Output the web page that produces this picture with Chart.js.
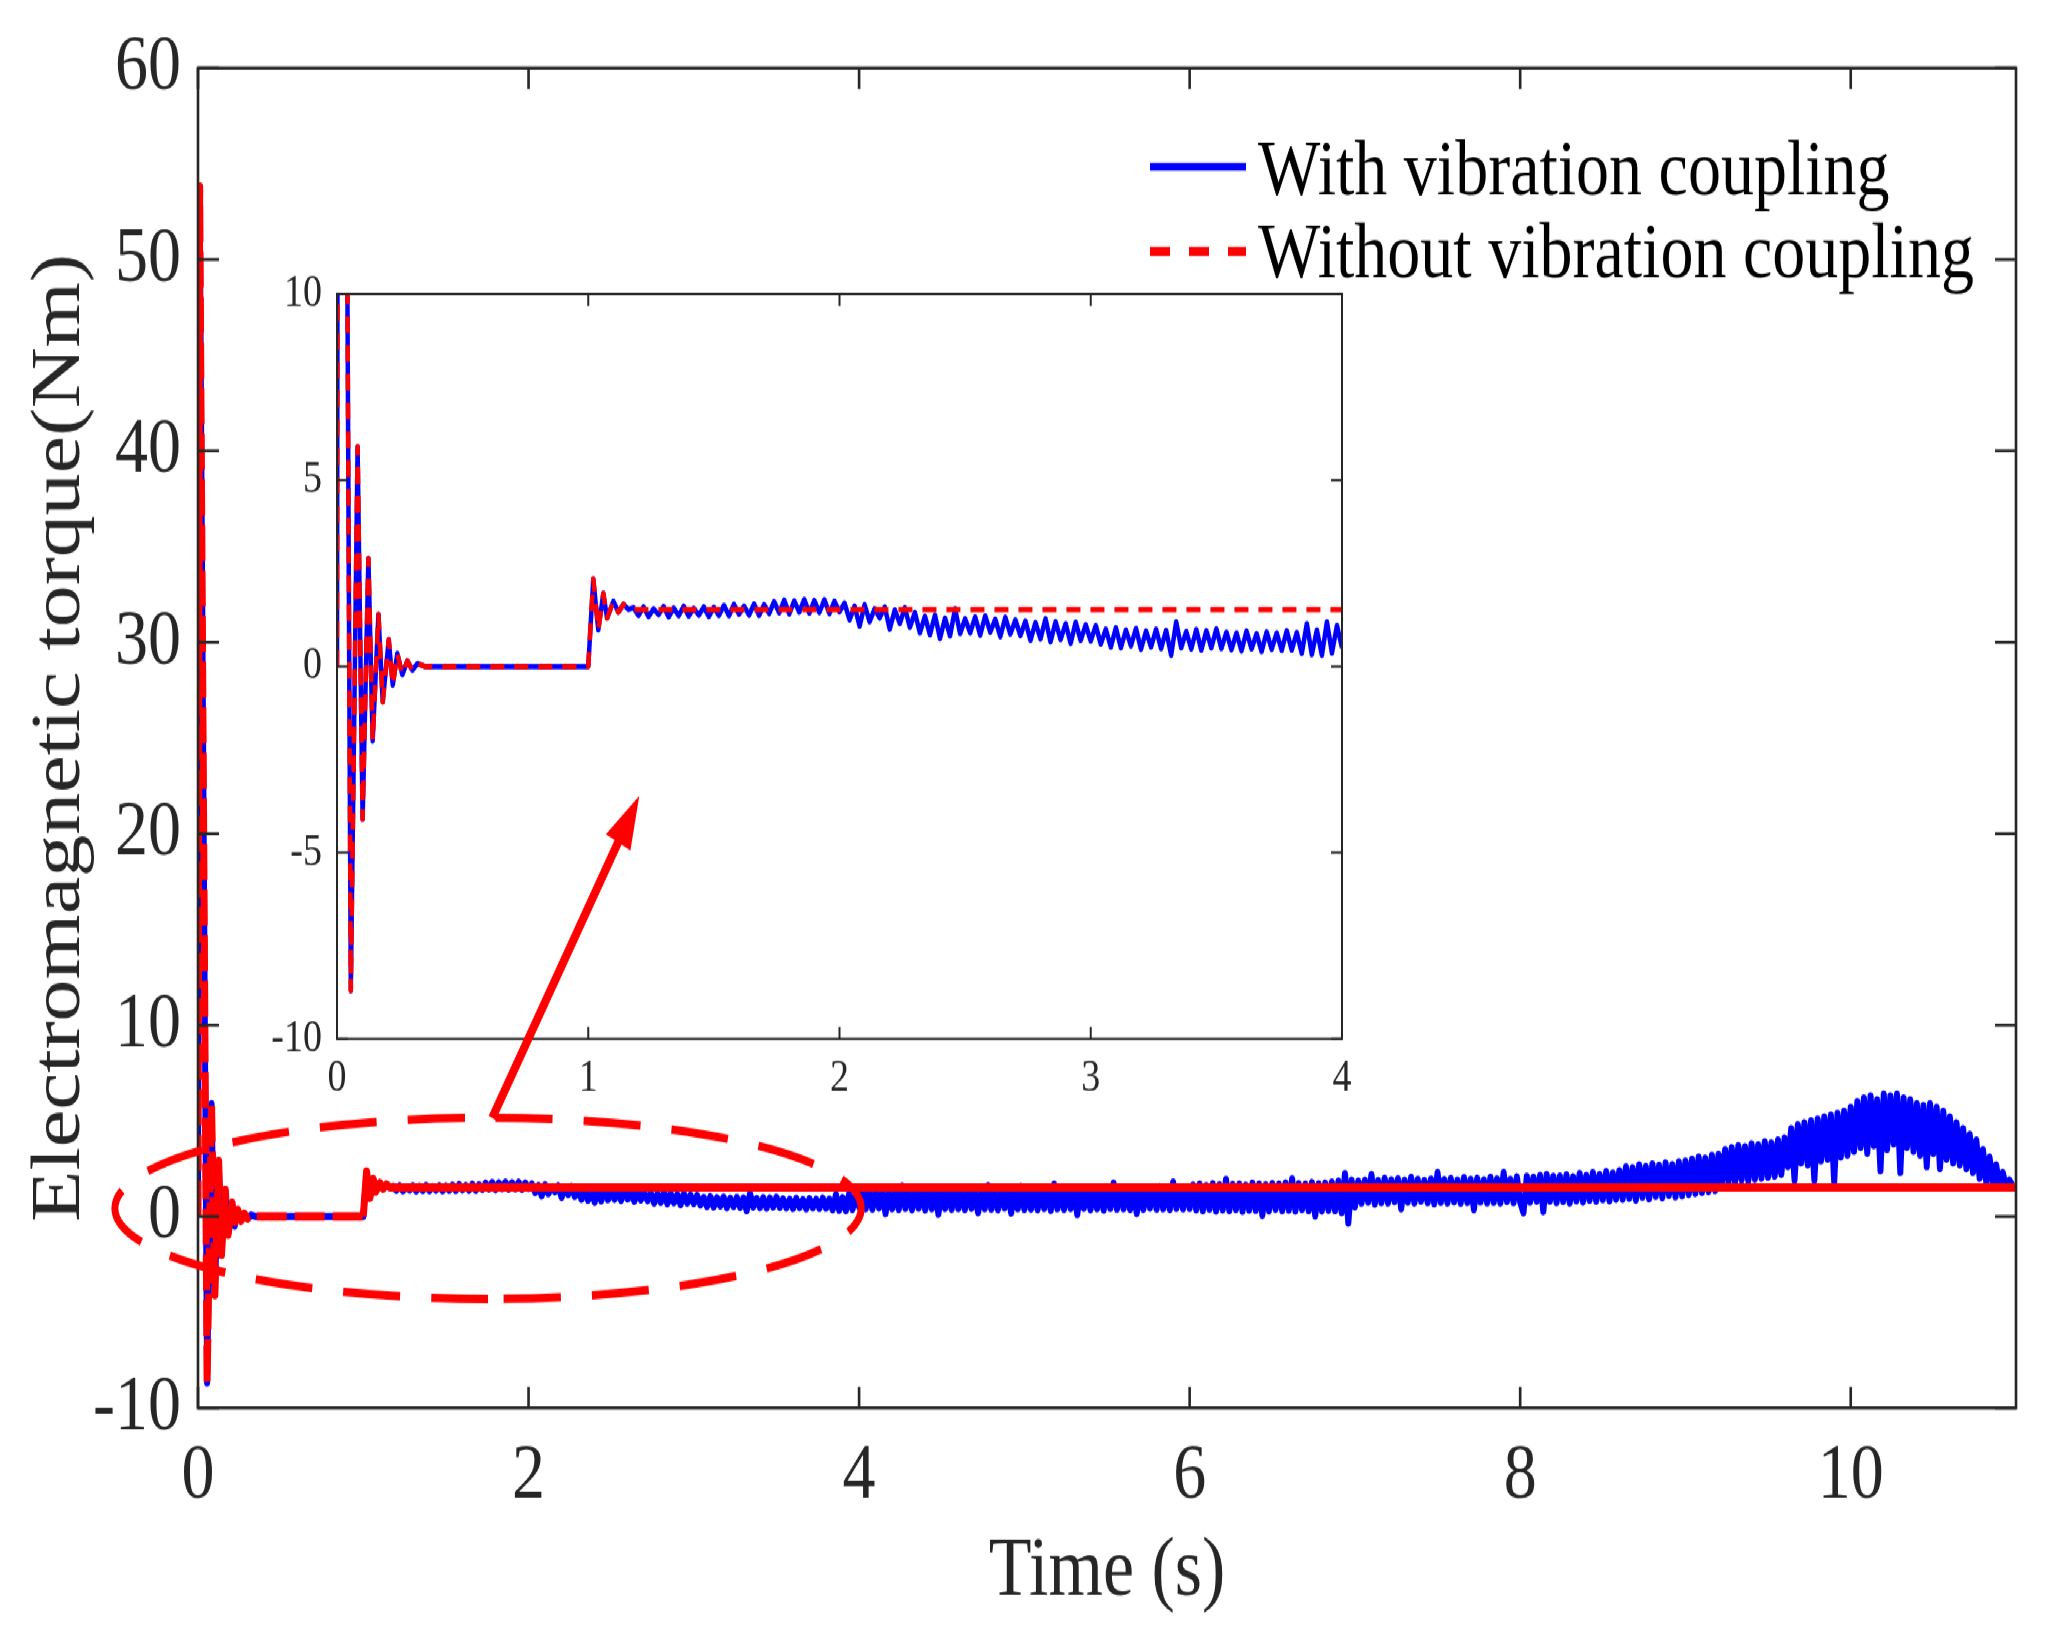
<!DOCTYPE html>
<html>
<head>
<meta charset="utf-8">
<script src="https://cdn.jsdelivr.net/npm/chart.js@4.4.0/dist/chart.umd.min.js"></script>
<style>
  html, body { margin: 0; padding: 0; background: #ffffff; overflow: hidden; width: 2057px; height: 1632px; }
  #wrap { position: absolute; left: 0; top: 0; width: 2057px; height: 1360px; transform: scaleY(1.2); transform-origin: 0 0; }
  #main { position: absolute; left: 0; top: 0; }
  #inset { position: absolute; left: 240px; top: 220px; }
</style>
</head>
<body>
<div id="wrap">
  <canvas id="main" width="2057" height="1360"></canvas>
  <canvas id="inset" width="1132" height="730"></canvas>
</div>
<script>
// ---------------- DATA ----------------
const seriesLabels = ['With vibration coupling', 'Without vibration coupling'];

// start-up transient and load step (shared by both simulations), time in s, torque in Nm
const transT = [0, 0.01, 0.055, 0.082, 0.102, 0.125, 0.142, 0.165, 0.182, 0.206, 0.222, 0.24, 0.26, 0.28, 0.30, 0.32, 0.35,
                1.0, 1.02, 1.04, 1.06, 1.075, 1.1, 1.12, 1.14, 1.16];
const transV = [0, 53.8, -8.7, 5.9, -4.1, 2.9, -2.0, 1.4, -0.95, 0.72, -0.5, 0.35, -0.22, 0.15, -0.1, 0.08, 0,
                0, 2.35, 0.98, 1.96, 1.3, 1.75, 1.46, 1.67, 1.53];

// without vibration coupling: steady torque after the transient
const redTailT = [11.0];
const redTailV = [1.53];

// with vibration coupling: torque sampled every 0.02 s from 1.18 s to 11.0 s, one array per window
const blueStart = 1.18, blueStep = 0.02;
const blue1to2 = [1.58, 1.37, 1.6, 1.34, 1.55, 1.39, 1.61, 1.33, 1.57, 1.36, 1.62, 1.35, 1.56, 1.38, 1.6, 1.34, 1.59,
  1.37, 1.64, 1.36, 1.67, 1.4, 1.62, 1.38, 1.68, 1.37, 1.66,
  1.42, 1.74, 1.44, 1.78, 1.41, 1.76, 1.46, 1.8, 1.43, 1.77, 1.45, 1.79, 1.42, 1.75, 1.47];
const blue2to3 = [1.7, 1.25, 1.62, 1.08, 1.66, 1.2, 1.55, 1.3, 1.6, 1.0, 1.52, 1.15, 1.58, 1.05, 1.45,
  0.9, 1.35, 0.85, 1.38, 0.75, 1.3, 0.82, 1.55, 0.88, 1.28, 0.9, 1.33, 0.84, 1.36, 0.92, 1.27, 0.8, 1.32, 0.87, 1.25, 0.83,
  1.22, 0.7, 1.18, 0.74, 1.28, 0.66, 1.2, 0.72, 1.15, 0.62, 1.19, 0.7, 1.12, 0.68];
const blue3to4 = [1.1, 0.6, 1.0, 0.52, 1.04, 0.5, 0.98, 0.55, 1.02, 0.46, 0.95, 0.52, 1.0, 0.48, 0.97, 0.3, 1.2, 0.5, 0.94, 0.47, 0.99, 0.44, 0.96, 0.5, 1.01, 0.48,
  0.92, 0.45, 0.9, 0.42, 0.95, 0.47, 0.88, 0.4, 0.93, 0.46, 0.9, 0.43, 0.96, 0.44, 0.91,
  0.35, 1.15, 0.32, 0.98, 0.3, 1.2, 0.36, 1.1, 0.5];
const blue4to5 = [1.3, 0.4, 1.35, 0.38, 1.28, 0.45, 1.36, 0.15, 1.3, 0.4, 1.33, 0.36, 1.6, 0.42, 1.3, 0.35, 1.37, 0.44, 1.29, 0.34,
  1.38, 0.4, 1.32, 0.12, 1.4, 0.42, 1.31, 0.37, 1.55, 0.41, 1.28, 0.36, 1.39, 0.43, 1.3, 0.2, 1.34, 0.4, 1.62, 0.38,
  1.3, 0.35, 1.36, 0.45, 1.33, 0.18, 1.38, 0.4, 1.58, 0.36];
const blue5to6 = [1.4, 0.38, 1.45, 0.35, 1.38, 0.42, 1.48, 0.32, 1.7, 0.4, 1.44, 0.36, 1.5, 0.41, 1.4, 0.1, 1.46, 0.43, 1.39, 0.35,
  1.48, 0.4, 1.43, 0.33, 1.5, 0.42, 1.75, 0.38, 1.52, 0.4, 1.47, 0.36, 1.55, 0.15, 1.46, 0.37, 1.5, 0.44, 1.48, 0.38,
  1.56, 0.4, 1.5, 0.36, 1.8, 0.43, 1.52, 0.39, 1.55, 0.42];
const blue6to7 = [1.65, 0.35, 1.7, 0.3, 1.62, 0.38, 1.72, 0.28, 1.66, 0.34, 1.95, 0.3, 1.68, 0.36, 1.7, 0.27, 1.64, 0.33, 1.75, 0.31,
  1.7, 0.05, 1.66, 0.29, 1.73, 0.37, 1.69, 0.3, 1.76, 0.33, 1.98, 0.28, 1.72, 0.36, 1.7, 0.3, 1.78, 0.02, 1.71, 0.29,
  1.75, 0.32, 1.8, 0.3, 1.85, 0.2, 2.25, -0.35, 1.9, 0.5];
const blue7to8 = [1.85, 0.7, 1.9, 0.75, 2.2, 0.65, 1.88, 0.72, 2.0, 0.7, 1.92, 0.78, 1.98, 0.4, 1.9, 0.75, 2.05, 0.7, 1.95, 0.8,
  1.88, 0.72, 1.96, 0.66, 2.3, 0.74, 1.93, 0.7, 1.99, 0.77, 1.9, 0.69, 2.04, 0.73, 1.95, 0.35, 2.0, 0.76, 1.92, 0.71,
  2.06, 0.74, 1.97, 0.7, 2.3, 0.78, 1.95, 0.72, 2.08, 0.75];
const blue8to9 = [0.2, 2.1, 0.75, 2.05, 0.8, 2.15, 0.25, 2.2, 0.8, 2.1, 0.72, 2.12, 0.78, 2.18, 0.7, 2.08, 0.82, 2.25, 0.76, 2.15,
  0.85, 2.3, 0.8, 2.2, 0.88, 2.35, 0.82, 2.28, 0.9, 2.4,
  0.9, 2.6, 0.95, 2.55, 0.85, 2.7, 1.0, 2.62, 0.92, 2.75, 1.05, 2.68, 0.98, 2.8, 1.1, 2.72, 1.02, 2.85, 1.08, 2.9];
const blue9to10 = [1.15, 3.0, 1.2, 3.1, 1.25, 3.05, 1.3, 3.2, 1.35, 3.25,
  1.7, 3.5, 1.8, 3.6, 1.75, 3.7, 1.9, 3.65, 1.85, 3.8, 1.95, 3.75, 2.0, 3.9, 2.05, 3.85, 2.1, 4.0, 2.2, 4.1,
  2.6, 4.6, 1.9, 4.8, 2.8, 4.9, 2.7, 5.0, 1.9, 5.1, 2.9, 5.2, 3.0, 5.3, 1.8, 5.4, 3.1, 5.5, 3.2, 5.7];
const blue10to11 = [3.4, 6.0, 3.6, 6.2, 3.3, 6.3, 3.7, 6.1, 2.4, 6.4, 3.5, 6.3, 3.8, 6.4, 2.3, 6.2, 3.6, 6.1,
  3.4, 5.9, 3.2, 5.8, 2.6, 5.9, 3.3, 5.7, 2.5, 5.5,
  3.0, 5.2, 2.8, 4.9, 2.7, 4.6, 2.5, 4.3, 2.3, 4.0,
  2.0, 3.5, 1.8, 3.1, 1.7, 2.7, 1.6, 2.3, 1.5,
  1.9, 1.6, 1.5];

// axis ticks
const mainXTicks = [0, 2, 4, 6, 8, 10];
const mainYTicks = [-10, 0, 10, 20, 30, 40, 50, 60];
const insetXTicks = [0, 1, 2, 3, 4];
const insetYTicks = [-10, -5, 0, 5, 10];

// highlight annotation (in main-axis data units)
const zoomEllipse = { cx: 1.755, cy: 0.43, rx: 2.258, ry: 4.73 };
const zoomArrow = { x0: 1.78, y0: 5.15, x1: 2.67, y1: 21.97 };

// ---------------- BUILD ----------------
const BLUE = '#0000FF', RED = '#FF0000', AXIS = '#262626';
const FONT = "'Liberation Serif', 'Times New Roman', serif";
const INSET_LEFT = 240, INSET_TOP = 220;

function pts(ts, vs) { return ts.map((t, i) => ({ x: t, y: vs[i] })); }
const blueSamples = [].concat(blue1to2, blue2to3, blue3to4, blue4to5, blue5to6, blue6to7, blue7to8, blue8to9, blue9to10, blue10to11);
const blueData = pts(transT, transV).concat(blueSamples.map((v, i) => ({ x: +(blueStart + i * blueStep).toFixed(4), y: v })));
const redData = pts(transT, transV).concat(pts(redTailT, redTailV));

Chart.defaults.font.family = FONT;
Chart.defaults.color = AXIS;

const boxTicks = {
  id: 'boxTicks',
  afterDatasetsDraw(chart, args, o) {
    const { ctx, chartArea: a, scales: { x, y } } = chart;
    ctx.save();
    ctx.setLineDash([]);
    ctx.strokeStyle = o.color;
    ctx.lineWidth = o.width;
    ctx.lineJoin = 'miter';
    ctx.beginPath();
    x.ticks.forEach(t => {
      const px = x.getPixelForValue(t.value);
      ctx.moveTo(px, a.bottom); ctx.lineTo(px, a.bottom - o.lenV);
      ctx.moveTo(px, a.top); ctx.lineTo(px, a.top + o.lenV);
    });
    y.ticks.forEach(t => {
      const py = y.getPixelForValue(t.value);
      ctx.moveTo(a.left, py); ctx.lineTo(a.left + o.lenH, py);
      ctx.moveTo(a.right, py); ctx.lineTo(a.right - o.lenH, py);
    });
    ctx.stroke();
    ctx.strokeRect(a.left, a.top, a.right - a.left, a.bottom - a.top);
    ctx.restore();
  }
};

const mainExtras = {
  id: 'mainExtras',
  afterDraw(chart) {
    const { ctx, scales: { x, y } } = chart;
    ctx.save();
    // dashed ellipse marking the zoomed region
    const cx = x.getPixelForValue(zoomEllipse.cx), cy = y.getPixelForValue(zoomEllipse.cy);
    const rx = x.getPixelForValue(zoomEllipse.cx + zoomEllipse.rx) - cx;
    const ry = cy - y.getPixelForValue(zoomEllipse.cy + zoomEllipse.ry);
    ctx.strokeStyle = RED;
    ctx.lineWidth = 7;
    ctx.setLineDash([57, 31]);
    ctx.beginPath();
    ctx.ellipse(cx, cy, rx, ry, 0, Math.PI * 0.5, Math.PI * 2.5);
    ctx.stroke();
    // legend
    const ds = chart.data.datasets;
    const rows = [{ d: ds[0], lineY: 139, baseY: 161.7, w: 6.7, dash: [] },
                  { d: ds[1], lineY: 209.4, baseY: 230.8, w: 7.5, dash: [20, 19] }];
    rows.forEach(r => {
      ctx.strokeStyle = r.d.borderColor;
      ctx.lineWidth = r.w;
      ctx.setLineDash(r.dash);
      ctx.beginPath();
      ctx.moveTo(1150, r.lineY); ctx.lineTo(1246, r.lineY);
      ctx.stroke();
      ctx.setLineDash([]);
      ctx.fillStyle = '#000000';
      ctx.font = "66px " + FONT;
      ctx.textBaseline = 'alphabetic';
      ctx.textAlign = 'left';
      ctx.fillText(r.d.label, 1258, r.baseY);
    });
    ctx.restore();
  }
};

function noPadY(h) { return s => { s.width = h; s.paddingTop = 0; s.paddingBottom = 0; }; }
function noPadX(h) { return s => { s.height = h; s.paddingLeft = 0; s.paddingRight = 0; }; }

const mainChart = new Chart(document.getElementById('main'), {
  type: 'line',
  data: {
    datasets: [
      { label: seriesLabels[0], data: blueData, borderColor: BLUE, borderWidth: 6, order: 1 },
      { label: seriesLabels[1], data: redData, borderColor: RED, borderWidth: 7, order: 0,
        segment: { borderDash: c => (c.p0.parsed.x < 0.5 ? [30, 8] : []) } }
    ]
  },
  options: {
    responsive: false, animation: false, devicePixelRatio: 1, events: [],
    parsing: false,
    elements: { point: { radius: 0 }, line: { tension: 0, borderCapStyle: 'butt', borderJoinStyle: 'round' } },
    layout: { padding: { left: 0, right: 41, top: 56.7, bottom: 0 } },
    plugins: {
      legend: { display: false }, tooltip: { enabled: false },
      boxTicks: { color: AXIS, width: 2.6, lenV: 17.5, lenH: 21 }
    },
    scales: {
      x: {
        type: 'linear', min: 0, max: 11,
        afterBuildTicks: s => { s.ticks = mainXTicks.map(v => ({ value: v })); },
        afterFit: noPadX(186.7),
        grid: { display: false, drawTicks: false }, border: { display: false },
        ticks: { font: { size: 66 }, color: AXIS, padding: 17.7, maxRotation: 0, autoSkip: false },
        title: { display: true, text: 'Time (s)', font: { size: 70 }, color: AXIS, padding: { top: 0, bottom: 7 } }
      },
      y: {
        type: 'linear', min: -10, max: 60,
        afterBuildTicks: s => { s.ticks = mainYTicks.map(v => ({ value: v })); },
        afterFit: noPadY(198),
        grid: { display: false, drawTicks: false }, border: { display: false },
        ticks: { font: { size: 66 }, color: AXIS, padding: 17, autoSkip: false },
        title: { display: true, text: 'Electromagnetic torque(Nm)', font: { size: 70 }, color: AXIS, padding: { top: 19, bottom: 0 } }
      }
    }
  },
  plugins: [boxTicks, mainExtras]
});

const insetWhite = {
  id: 'insetWhite',
  beforeDraw(chart) {
    const { ctx, chartArea: a } = chart;
    ctx.save();
    ctx.fillStyle = '#ffffff';
    ctx.fillRect(a.left, a.top, a.right - a.left, a.bottom - a.top);
    ctx.restore();
  }
};

const insetArrow = {
  id: 'insetArrow',
  afterDraw(chart) {
    const { ctx } = chart;
    const mx = mainChart.scales.x, my = mainChart.scales.y;
    const x0 = mx.getPixelForValue(zoomArrow.x0) - INSET_LEFT, y0 = my.getPixelForValue(zoomArrow.y0) - INSET_TOP;
    const x1 = mx.getPixelForValue(zoomArrow.x1) - INSET_LEFT, y1 = my.getPixelForValue(zoomArrow.y1) - INSET_TOP;
    const ang = Math.atan2(y1 - y0, x1 - x0);
    const headLen = 44, headHalf = 14;
    const bx = x1 - headLen * Math.cos(ang), by = y1 - headLen * Math.sin(ang);
    ctx.save();
    ctx.strokeStyle = RED; ctx.fillStyle = RED;
    ctx.lineWidth = 8; ctx.setLineDash([]); ctx.lineCap = 'butt';
    ctx.beginPath(); ctx.moveTo(x0, y0); ctx.lineTo(bx + 2 * Math.cos(ang), by + 2 * Math.sin(ang)); ctx.stroke();
    ctx.beginPath();
    ctx.moveTo(x1, y1);
    ctx.lineTo(bx + headHalf * Math.sin(ang), by - headHalf * Math.cos(ang));
    ctx.lineTo(bx - headHalf * Math.sin(ang), by + headHalf * Math.cos(ang));
    ctx.closePath(); ctx.fill();
    ctx.restore();
  }
};

new Chart(document.getElementById('inset'), {
  type: 'line',
  data: {
    datasets: [
      { label: seriesLabels[0], data: blueData, borderColor: BLUE, borderWidth: 4.5, order: 1 },
      { label: seriesLabels[1], data: redData, borderColor: RED, borderWidth: 4.5, borderDash: [14, 10], order: 0 }
    ]
  },
  options: {
    responsive: false, animation: false, devicePixelRatio: 1, events: [],
    parsing: false,
    elements: { point: { radius: 0 }, line: { tension: 0, borderCapStyle: 'butt', borderJoinStyle: 'round' } },
    layout: { padding: { left: 0, right: 30, top: 25, bottom: 0 } },
    plugins: {
      legend: { display: false }, tooltip: { enabled: false },
      boxTicks: { color: AXIS, width: 2, lenV: 10, lenH: 11 }
    },
    scales: {
      x: {
        type: 'linear', min: 0, max: 4,
        afterBuildTicks: s => { s.ticks = insetXTicks.map(v => ({ value: v })); },
        afterFit: noPadX(84.2),
        grid: { display: false, drawTicks: false }, border: { display: false },
        ticks: { font: { size: 38 }, color: AXIS, padding: 10, maxRotation: 0, autoSkip: false }
      },
      y: {
        type: 'linear', min: -10, max: 10,
        afterBuildTicks: s => { s.ticks = insetYTicks.map(v => ({ value: v })); },
        afterFit: noPadY(97),
        grid: { display: false, drawTicks: false }, border: { display: false },
        ticks: { font: { size: 38 }, color: AXIS, padding: 15, autoSkip: false }
      }
    }
  },
  plugins: [insetWhite, boxTicks, insetArrow]
});
</script>
</body>
</html>
